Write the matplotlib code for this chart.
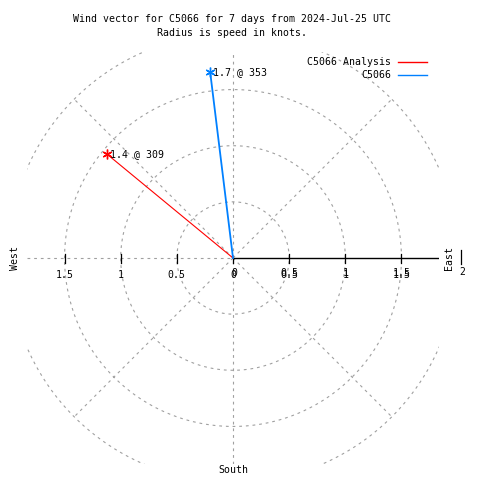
import numpy as np
import matplotlib
matplotlib.use("Agg")
import matplotlib.pyplot as plt

# ---- data ----
series_names = ["C5066 Analysis", "C5066"]
speeds = [1.45, 1.67]        # knots
directions = [309.5, 353]    # degrees (compass)
point_labels = ["1.4 @ 309", "1.7 @ 353"]
colors = ["#ff0000", "#0080ff"]
line_widths = [0.8, 1.3]
grid_radii = [0.5, 1.0, 1.5, 2.0]
tick_values = [0.5, 1.0, 1.5]
tick_labels = ["0.5", "1", "1.5"]
title_lines = ["Wind vector for C5066 for 7 days from 2024-Jul-25 UTC",
               "Radius is speed in knots."]

W = H = 480
fig = plt.figure(figsize=(4.8, 4.8), dpi=100)
FONT = dict(family="DejaVu Sans Mono", fontsize=7.1)

# pixel geometry of the plot box
cx, cy = 233, 258
scale = 112.3
left_px, right_px, top_px, bot_px = 27, 439, 52, 464
lim = (right_px - left_px) / 2 / scale
ax = fig.add_axes([left_px / W, (H - bot_px) / H, (right_px - left_px) / W, (bot_px - top_px) / H])
ax.set_xlim(-lim, lim)
ax.set_ylim(-lim, lim)
ax.axis("off")

grid_kw = dict(color="#a0a0a0", lw=0.8, ls=(0, (2.5, 3.5)))
t = np.linspace(0, 2 * np.pi, 720)
for r in grid_radii:
    ax.plot(r * np.cos(t), r * np.sin(t), **grid_kw)
for a in [45, 135, 225, 315]:
    ar = np.deg2rad(a)
    ax.plot([0, 2 * np.cos(ar)], [0, 2 * np.sin(ar)], **grid_kw)
ax.plot([-lim, 0], [0, 0], **grid_kw)
ax.plot([0, 0], [-lim, lim], **grid_kw)

# solid positive radial axis
ax.plot([0, lim], [0, 0], color="black", lw=1.0, solid_capstyle="butt")
tk = 4.5 / scale
for v in tick_values:
    for s in (1, -1):
        ax.plot([s * v, s * v], [-tk, tk], color="black", lw=0.9)
ax.plot([0, 0], [-tk, 0], color="black", lw=0.9)

ly = -17 / scale
for v, lab in zip(tick_values, tick_labels):
    ax.text(-v, ly, lab, ha="center", va="center", **FONT)
    ax.text(v, ly, lab, ha="center", va="center", **FONT)
    ax.text(v, ly + 2.5 / scale, lab, ha="center", va="center", **FONT)
ax.text(0, ly, "0", ha="center", va="center", **FONT)
ax.text(0.01, ly + 2 / scale, "0", ha="center", va="center", **FONT)

# data vectors
for name, s, d, lab, c, lw in zip(series_names, speeds, directions, point_labels, colors, line_widths):
    th = np.deg2rad(d)
    x, y = s * np.sin(th), s * np.cos(th)
    ax.plot([0, x], [0, y], color=c, lw=lw, clip_on=False)
    ax.plot([x], [y], marker=(6, 2, 0), color=c, ms=7, mew=1.0, clip_on=False)
    ax.text(x + 3 / scale, y, lab, ha="left", va="center", **FONT)

# figure-level texts (pixel coordinates)
def ft(x, y, s, **kw):
    fig.text(x / W, 1 - y / H, s, **{**FONT, **kw})

ft(232, 19, title_lines[0], ha="center", va="center")
ft(232, 33, title_lines[1], ha="center", va="center")
ft(15, 258, "West", ha="center", va="center", rotation=90)
ft(449, 258, "East", ha="center", va="center", rotation=90)
ft(462, 272, "2", ha="center", va="center")
fig.add_artist(plt.Line2D([461 / W, 461 / W], [1 - 250 / H, 1 - 264 / H], color="black", lw=0.9))
ft(233, 470, "South", ha="center", va="center")

# legend
for i, (name, c) in enumerate(zip(series_names, colors)):
    yy = 62 + 13 * i
    ft(391, yy, name, ha="right", va="center")
    fig.add_artist(plt.Line2D([398 / W, 427 / W], [1 - yy / H, 1 - yy / H], color=c, lw=1.0))

fig.savefig("out.png", dpi=100)
